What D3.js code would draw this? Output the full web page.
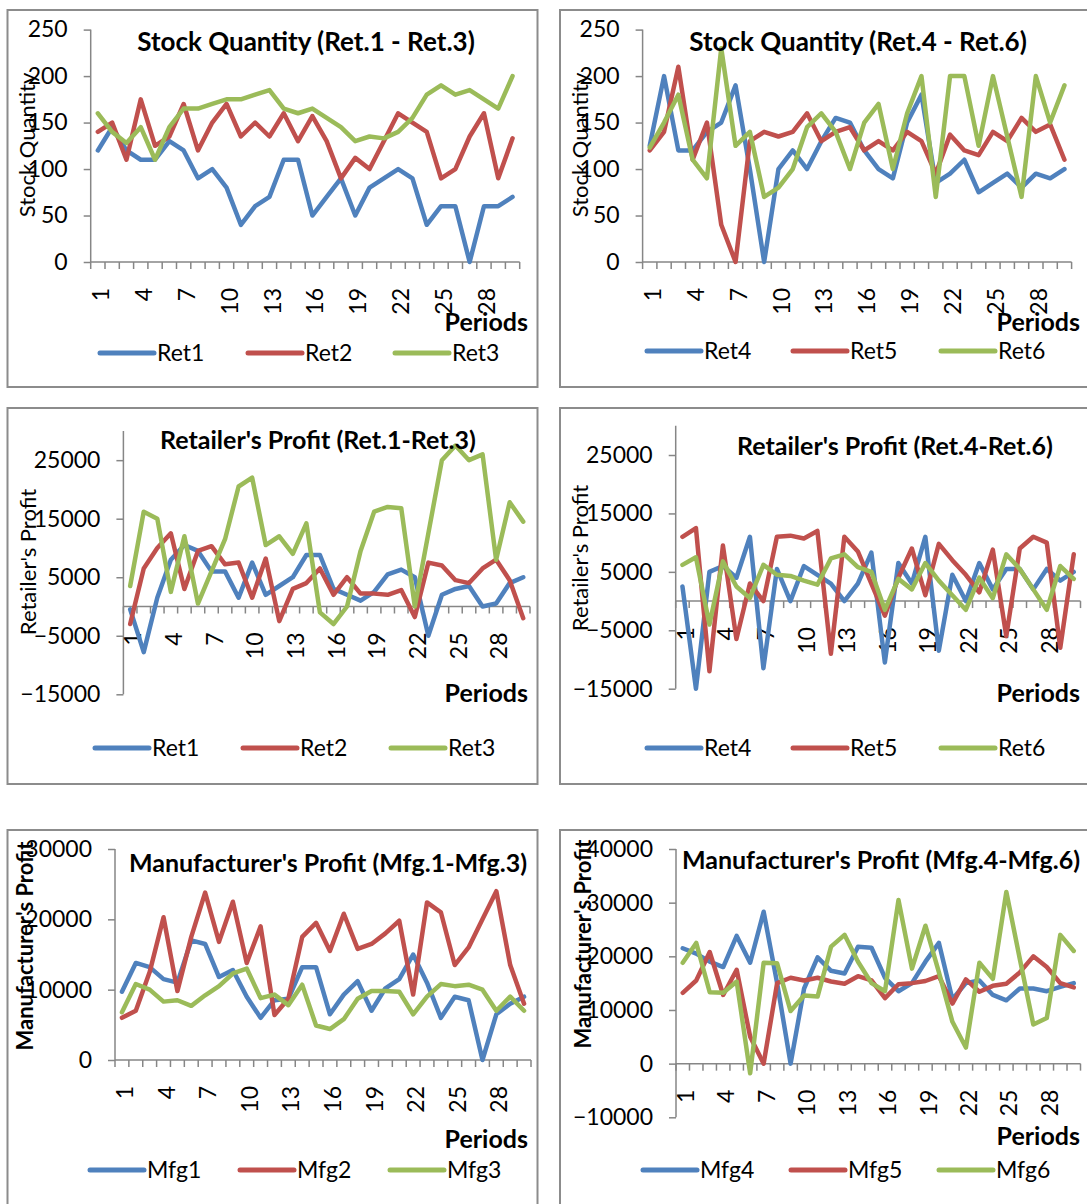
<!DOCTYPE html>
<html>
<head>
<meta charset="utf-8">
<script src="https://cdn.jsdelivr.net/npm/d3@7"></script>
<style>
  body { margin: 0; background: #fff; }
  svg { display: block; font-family: Lato, "Open Sans", sans-serif; }
</style>
</head>
<body>
<div class="chart"></div>
<script>

// periods on the x axis
const periods = [1,2,3,4,5,6,7,8,9,10,11,12,13,14,15,16,17,18,19,20,21,22,23,24,25,26,27,28,29,30]

// stock quantity
const ret1Stock = [120,145,120,110,110,130,120,90,100,80,40,60,70,110,110,50,70,90,50,80,90,100,90,40,60,60,0,60,60,70]
const ret2Stock = [140,150,110,175,125,135,170,120,150,170,135,150,135,160,130,157,130,90,112,100,130,160,150,140,90,100,135,160,90,133]
const ret3Stock = [160,140,128,145,110,145,165,165,170,175,175,180,185,165,160,165,155,145,130,135,133,140,155,180,190,180,185,175,165,200]
const ret4Stock = [125,200,120,120,140,150,190,100,0,100,120,100,130,155,150,120,100,90,150,180,85,95,110,75,85,95,80,95,90,100]
const ret5Stock = [120,140,210,110,150,40,0,130,140,135,140,160,130,140,145,120,130,120,140,130,95,137,120,115,140,130,155,140,148,110]
const ret6Stock = [123,150,180,110,90,230,125,140,70,80,100,145,160,140,100,150,170,100,160,200,70,200,200,125,200,135,70,200,150,190]

// retailer's profit
const ret1Profit = [-500,-7800,1500,8000,10500,9500,6000,6000,1500,7500,2000,3500,5000,8800,8800,3000,2000,1000,2500,5500,6300,5000,-5000,2000,3000,3500,0,500,4000,5000]
const ret2Profit = [-3000,6500,10000,12500,3000,9500,10300,7200,7500,1500,8200,-2500,3000,4000,6500,2000,5000,2200,2200,2000,2800,-1800,7500,7000,4500,4000,6500,8000,4500,-2000]
const ret3Profit = [3500,16200,15000,2500,12000,500,6000,11500,20500,22000,10500,12000,9000,14200,-1000,-3000,0,9500,16200,17000,16800,0,12500,25000,27500,25000,26000,8000,17800,14500]
const ret4Profit = [2500,-15000,5000,6000,4000,11000,-11500,5500,0,6000,4500,3000,0,3000,8300,-10500,6500,3000,11000,-8500,4500,0,6500,2000,5500,5500,2000,5500,3500,5000]
const ret5Profit = [11000,12500,-12000,9500,-6500,3000,0,11000,11200,10700,12000,-9000,11000,8500,3000,-2500,4000,9000,1000,9800,7000,4500,1500,8800,-6000,9000,11000,10000,-8000,8000]
const ret6Profit = [6200,7500,-4000,6800,2500,500,6200,4500,4300,3500,2800,7300,8000,5800,5000,-1500,3800,2000,6500,3500,1000,-1500,4000,500,8000,5500,2000,-1500,6000,3800]

// manufacturer's profit
const mfg1Profit = [9700,13800,13200,11500,11000,17000,16500,11800,12800,9000,6000,8500,8700,13200,13200,6500,9300,11200,7000,10200,11500,15000,11000,6000,9000,8500,0,6500,8000,9000]
const mfg2Profit = [6000,7000,12500,20300,9800,17500,23800,16800,22500,13800,19000,6400,8700,17500,19500,15500,20800,15800,16500,18000,19800,9300,22400,21000,13500,16000,20000,24000,13500,8000]
const mfg3Profit = [6800,10800,10000,8300,8500,7700,9200,10500,12300,13000,8800,9300,7800,10700,4900,4400,5800,8700,9800,9800,9700,6500,9000,10800,10500,10700,10000,7000,9000,7000]
const mfg4Profit = [21500,20500,19000,18000,23800,18800,28300,15000,0,14000,19800,17300,16800,21800,21600,16000,13500,15000,19000,22500,12000,15000,15500,12800,11800,14000,14000,13500,14300,15000]
const mfg5Profit = [13200,15500,20800,12800,17500,5000,0,15000,16000,15500,16000,15300,14900,16300,15500,12200,14800,15000,15400,16300,11200,15700,13400,14500,14900,17000,20000,18000,15000,14200]
const mfg6Profit = [18800,22500,13300,13200,15300,-1800,18800,18700,9800,12700,12500,21800,24000,19000,15000,13500,30500,17700,25700,17000,7800,3000,18800,15800,32000,19500,7300,8500,24000,21000]

// axis tick values
const stockTicks = [0,50,100,150,200,250]
const retProfitTicks = [-15000,-5000,5000,15000,25000]
const mfgLeftTicks = [0,10000,20000,30000]
const mfgRightTicks = [-10000,0,10000,20000,30000,40000]

const colors = ["#4f81bd", "#c0504d", "#9bbb59"]
const gray = "#868686"

const svg = d3.select(".chart")
    .append("svg")
    .attr("width", 1087)
    .attr("height", 1204)

const panels = [
    {box: [7.5, 10, 530, 377], left: 90.7, right: 519.7, yDomain: [0, 250], yRange: [262, 29.6], ticks: stockTicks,
     title: "Stock Quantity (Ret.1 - Ret.3)", tx: 306, ty: 42, ts: 26, yTitle: "Stock Quantity", yx: 27, yy: 145, yBold: false,
     px: 528, py: 331, ly: 353, lx: [100, 248, 395], names: ["Ret1", "Ret2", "Ret3"], series: [ret1Stock, ret2Stock, ret3Stock]},
    {box: [560, 10, 540, 377], left: 642.6, right: 1071.6, yDomain: [0, 250], yRange: [262, 29.6], ticks: stockTicks,
     title: "Stock Quantity (Ret.4 - Ret.6)", tx: 858, ty: 42, ts: 26, yTitle: "Stock Quantity", yx: 580, yy: 145, yBold: false,
     px: 1080, py: 331, ly: 351, lx: [647, 793, 941], names: ["Ret4", "Ret5", "Ret6"], series: [ret4Stock, ret5Stock, ret6Stock]},
    {box: [7.5, 408, 530, 376], left: 123.4, right: 530, yDomain: [-15000, 30000], yRange: [694.3, 430.9], ticks: retProfitTicks,
     title: "Retailer's Profit (Ret.1-Ret.3)", tx: 318, ty: 440, ts: 25, yTitle: "Retailer's Profit", yx: 28, yy: 562, yBold: false,
     px: 528, py: 702, ly: 748, lx: [95, 243, 391], names: ["Ret1", "Ret2", "Ret3"], series: [ret1Profit, ret2Profit, ret3Profit]},
    {box: [560, 408, 540, 376], left: 675.7, right: 1080.5, yDomain: [-15000, 30000], yRange: [688.7, 425.8], ticks: retProfitTicks,
     title: "Retailer's Profit (Ret.4-Ret.6)", tx: 895, ty: 446, ts: 25, yTitle: "Retailer's Profit", yx: 580, yy: 558, yBold: false,
     px: 1080, py: 702, ly: 748, lx: [647, 793, 941], names: ["Ret4", "Ret5", "Ret6"], series: [ret4Profit, ret5Profit, ret6Profit]},
    {box: [7.5, 830, 530, 400], left: 115, right: 531, yDomain: [0, 30000], yRange: [1060, 849], ticks: mfgLeftTicks,
     title: "Manufacturer's Profit (Mfg.1-Mfg.3)", tx: 328, ty: 863, ts: 25, yTitle: "Manufacturer's Profit", yx: 25, yy: 946, yBold: true,
     px: 528, py: 1148, ly: 1170, lx: [90, 240, 390], names: ["Mfg1", "Mfg2", "Mfg3"], series: [mfg1Profit, mfg2Profit, mfg3Profit]},
    {box: [560, 830, 540, 400], left: 676, right: 1080.5, yDomain: [-10000, 40000], yRange: [1117.3, 849], ticks: mfgRightTicks,
     title: "Manufacturer's Profit (Mfg.4-Mfg.6)", tx: 881, ty: 860, ts: 25, yTitle: "Manufacturer's Profit", yx: 583, yy: 944, yBold: true,
     px: 1080, py: 1145, ly: 1170, lx: [643, 791, 939], names: ["Mfg4", "Mfg5", "Mfg6"], series: [mfg4Profit, mfg5Profit, mfg6Profit]}
]

function drawPanel(p) {
    const g = svg.append("g")

    g.append("rect")
        .attr("x", p.box[0])
        .attr("y", p.box[1])
        .attr("width", p.box[2])
        .attr("height", p.box[3])
        .attr("fill", "#fff")
        .attr("stroke", "#8c8c8c")
        .attr("stroke-width", 2)

    const xScale = d3.scaleBand()
        .domain(periods)
        .range([p.left, p.right])

    const yScale = d3.scaleLinear()
        .domain(p.yDomain)
        .range(p.yRange)

    const y0 = yScale(0)

    // y axis
    const yAxis = d3.axisLeft(yScale)
        .tickValues(p.ticks)
        .tickSize(7)
        .tickPadding(16)
        .tickFormat(d3.format("d"))

    const ya = g.append("g")
        .attr("transform", `translate(${p.left}, 0)`)
        .call(yAxis)
    ya.select(".domain").remove()
    ya.append("line")
        .attr("y1", yScale(p.yDomain[0]))
        .attr("y2", yScale(p.yDomain[1]))
        .attr("stroke", gray)
        .attr("stroke-width", 1.5)
    ya.selectAll(".tick line").attr("stroke", gray).attr("stroke-width", 1.5)
    ya.selectAll(".tick text")
        .attr("font-size", 23)
        .attr("font-family", "Lato")
        .attr("fill", "#000")

    // x axis at zero
    const xa = g.append("g")
        .attr("transform", `translate(0, ${y0})`)
    xa.append("line")
        .attr("x1", p.left)
        .attr("x2", p.right)
        .attr("stroke", gray)
        .attr("stroke-width", 1.5)
    xa.selectAll(".bound")
        .data(periods.concat([null]))
        .enter()
        .append("line")
        .attr("x1", (d, i) => p.left + i * xScale.step())
        .attr("x2", (d, i) => p.left + i * xScale.step())
        .attr("y1", 0)
        .attr("y2", 7)
        .attr("stroke", gray)
        .attr("stroke-width", 1.5)
    xa.selectAll(".xlab")
        .data(periods.filter((d, i) => i % 3 === 0))
        .enter()
        .append("text")
        .attr("transform", d => `translate(${xScale(d) + xScale.bandwidth() / 2 + 3}, 26) rotate(-90)`)
        .attr("dy", "0.35em")
        .attr("text-anchor", "end")
        .attr("font-size", 23)
        .text(d => d)

    // lines
    const line = d3.line()
        .x((d, i) => xScale(periods[i]) + xScale.bandwidth() / 2)
        .y(d => yScale(d))

    p.series.forEach((s, k) => {
        g.append("path")
            .datum(s)
            .attr("d", line)
            .attr("fill", "none")
            .attr("stroke", colors[k])
            .attr("stroke-width", 4.5)
            .attr("stroke-linejoin", "round")
            .attr("stroke-linecap", "round")
    })

    // titles
    g.append("text")
        .attr("x", p.tx)
        .attr("y", p.ty)
        .attr("dy", "0.35em")
        .attr("text-anchor", "middle")
        .attr("font-size", p.ts)
        .attr("font-weight", "bold")
        .text(p.title)

    g.append("text")
        .attr("transform", `translate(${p.yx}, ${p.yy}) rotate(-90)`)
        .attr("dy", "0.35em")
        .attr("text-anchor", "middle")
        .attr("font-size", 22)
        .attr("font-weight", p.yBold ? "bold" : "normal")
        .text(p.yTitle)

    g.append("text")
        .attr("x", p.px)
        .attr("y", p.py)
        .attr("text-anchor", "end")
        .attr("font-size", 25)
        .attr("font-weight", "bold")
        .text("Periods")

    // legend
    p.names.forEach((n, k) => {
        g.append("line")
            .attr("x1", p.lx[k])
            .attr("x2", p.lx[k] + 54)
            .attr("y1", p.ly)
            .attr("y2", p.ly)
            .attr("stroke", colors[k])
            .attr("stroke-width", 5)
            .attr("stroke-linecap", "round")
        g.append("text")
            .attr("x", p.lx[k] + 57)
            .attr("y", p.ly)
            .attr("dy", "0.35em")
            .attr("font-size", 23)
            .text(n)
    })
}

panels.forEach(drawPanel)

</script>
</body>
</html>
